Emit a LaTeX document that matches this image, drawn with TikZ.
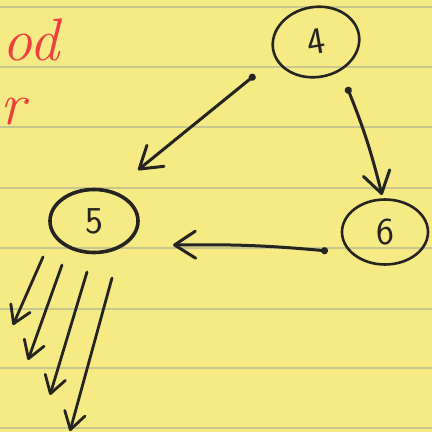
\documentclass[tikz,border=0pt]{standalone}
\usepackage{fontspec}
\usetikzlibrary{arrows.meta,shapes.geometric}
\definecolor{paper}{RGB}{245,234,132}
\definecolor{rule}{RGB}{200,198,142}
\definecolor{ink}{RGB}{38,36,32}
\definecolor{redink}{RGB}{238,62,62}
\tikzset{
  pen/.style={draw=ink, line width=3pt, line cap=round, line join=round},
  vnode/.style={ellipse, draw=ink, line width=2.6pt, inner sep=0pt,
    text=ink, font=\sffamily\fontsize{38}{38}\selectfont},
  arr/.style={pen, {Circle[length=7pt]}-{Straight Barb[round,length=21pt,width=27pt]}},
  tail/.style={pen, line width=2.8pt, -{Straight Barb[round,length=17pt,width=21pt]}},
  scrawl/.style={text=redink, inner sep=0pt,
    font=\itshape\fontsize{60}{60}\selectfont}
}
\begin{document}
\begin{tikzpicture}[x=1pt,y=-1pt]
  % legal pad paper
  \useasboundingbox (0,0) rectangle (432,432);
  \clip (0,0) rectangle (432,432);
  \fill[paper] (0,0) rectangle (432,432);
  \foreach \yy in {7,67,127,188,248,309,368,428}
    \draw[rule, line width=1.2pt] (0,\yy) -- (432,\yy);

  % red handwriting at the left edge
  \node[scrawl, anchor=base east] (wod) at (60,60) {od};
  \node[scrawl, anchor=base west] (wr) at (0,124) {r};

  % circled vertices
  \node[vnode, minimum width=87pt, minimum height=70pt, rotate=10] (n4) at (316,42) {4};
  \node[vnode, line width=3.6pt, minimum width=88pt, minimum height=63pt] (n5) at (94,221) {5};
  \node[vnode, minimum width=86pt, minimum height=65pt] (n6) at (385,232) {6};

  % edges between vertices
  \draw[arr] ([shift={(-61,33)}]n4.center) -- ([shift={(44,-51)}]n5.center);
  \draw[arr] ([shift={(31,45)}]n4.center) to[bend left=4] ([shift={(-3,-37)}]n6.center);
  \draw[arr] ([shift={(-57,19)}]n6.center) to[bend right=3] ([shift={(79,24)}]n5.center);

  % outgoing edges of vertex 5
  \coordinate (o1) at (13,325);
  \coordinate (o2) at (28,360);
  \coordinate (o3) at (50,395);
  \coordinate (o4) at (70,431);
  \draw[tail] ([shift={(-51,36)}]n5.center) -- (o1);
  \draw[tail] ([shift={(-32,44)}]n5.center) -- (o2);
  \draw[tail] ([shift={(-7,51)}]n5.center) -- (o3);
  \draw[tail] ([shift={(18,57)}]n5.center) -- (o4);
\end{tikzpicture}
\end{document}
